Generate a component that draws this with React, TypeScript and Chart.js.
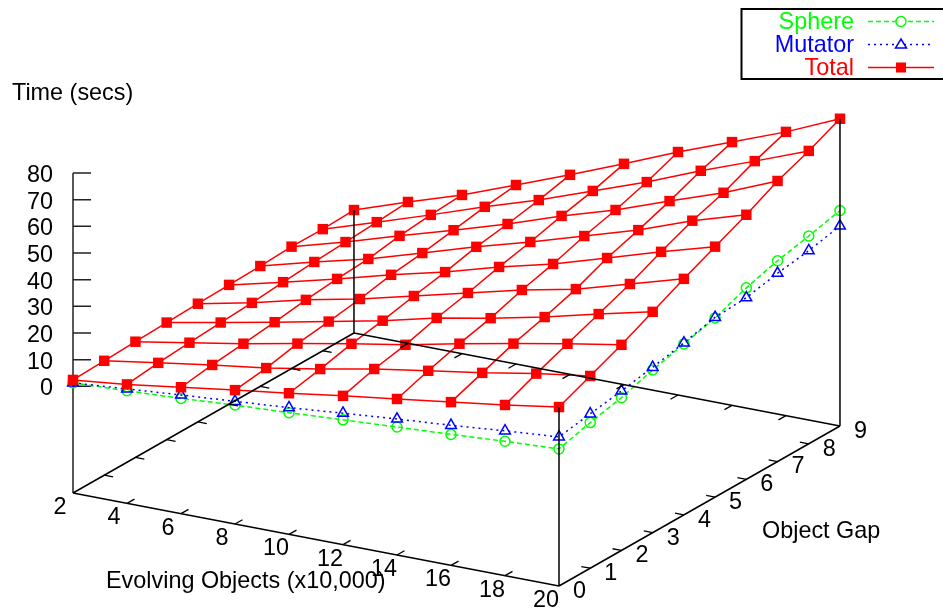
import React, { useEffect, useRef } from "react";
import { Chart, registerables } from "chart.js";

Chart.register(...registerables);

const objects = [2, 4, 6, 8, 10, 12, 14, 16, 18, 20];
const gaps = [0, 1, 2, 3, 4, 5, 6, 7, 8, 9];
const zTicks = [0, 10, 20, 30, 40, 50, 60, 70, 80];

// Total time: one row for each object gap, one value for each object count
const totalGap0 = [2.4, 4.6, 7.4, 10.2, 12.9, 15.8, 18.5, 21.2, 24, 27.1];
const totalGap1 = [2.9, 6, 9.1, 11.8, 15.3, 19.2, 22.4, 25.5, 29.1, 32.1];
const totalGap2 = [3.4, 6.9, 10.4, 14.3, 18.1, 21.6, 25.9, 29.8, 33.6, 37.1];
const totalGap3 = [3.9, 7.8, 11.8, 15.9, 20.1, 25, 28.8, 33.1, 38.1, 42.8];
const totalGap4 = [4.3, 8.5, 13.5, 17.7, 22.7, 27.7, 32.7, 36.9, 42.7, 48.5];
const totalGap5 = [4.7, 9.6, 14.7, 20.1, 25, 30.8, 35.8, 41.9, 48.1, 53.9];
const totalGap6 = [5.1, 10.5, 15.5, 21.6, 27.8, 33.5, 39.6, 45.7, 53.1, 59.2];
const totalGap7 = [5.7, 11.3, 17.5, 23.5, 29.7, 36.6, 42.7, 49.9, 56.9, 65.2];
const totalGap8 = [5.6, 12.1, 18.7, 25.6, 32, 39.3, 46.5, 54.6, 62.1, 69.8];
const totalGap9 = [6.1, 13, 19.5, 27.1, 34.8, 42.8, 51.1, 58.7, 66.4, 75.2];
const totalRows = [totalGap0, totalGap1, totalGap2, totalGap3, totalGap4, totalGap5, totalGap6, totalGap7, totalGap8, totalGap9];

// Only the front edges of these two surfaces are visible
const sphereGap0 = [1.3, 2.2, 3.2, 4.6, 5.6, 6.8, 8, 9.1, 10.4, 11.4];
const sphereObjects20 = [11.4, 14.6, 17.3, 21, 24.1, 27.2, 31.8, 35.3, 37.9, 40.8];
const mutatorGap0 = [1.3, 2.9, 4.5, 6, 7.5, 9.3, 11, 12.5, 14.3, 15.9];
const mutatorObjects20 = [15.9, 17.9, 19.8, 22, 24.5, 27.4, 28.1, 30.6, 32.4, 35];

const GREEN = "#00ff00";
const BLUE = "#0000ff";
const RED = "#ff0000";
const FONT = '"Liberation Sans", Arial, sans-serif';
const FONT_SIZE = 23.4;

// gnuplot style view: object count, gap and time mapped to the flat page
const X0 = 73, Y0 = 493;
const PX_X = 27, PY_X = 5.167;
const PX_G = 31.22, PY_G = -17.78;
const PY_Z = -2.667;
const Z_BASE = -40;
const project = (x: number, g: number, z: number) => ({
  x: X0 + (x - 2) * PX_X + g * PX_G,
  y: Y0 + (x - 2) * PY_X + g * PY_G + (z - Z_BASE) * PY_Z,
});
const GAP = { x: NaN, y: NaN };

const xMin = objects[0], xMax = objects[objects.length - 1];
const gMin = gaps[0], gMax = gaps[gaps.length - 1];
const zMax = zTicks[zTicks.length - 1];

const totalRowPoints = totalRows.flatMap((row, j) => [
  ...row.map((z, i) => project(objects[i], gaps[j], z)),
  GAP,
]);
const totalColumnPoints = objects.flatMap((x, i) => [
  ...gaps.map((g, j) => project(x, g, totalRows[j][i])),
  GAP,
]);
const edgePoints = (front: number[], side: number[]) => [
  ...objects.map((x, i) => project(x, gMin, front[i])),
  ...gaps.slice(1).map((g, j) => project(xMax, g, side[j + 1])),
];

const segs = (pairs: Array<[number, number, number, number, number, number]>) =>
  pairs.flatMap(([a, b, c, d, e, f]) => [project(a, b, c), project(d, e, f), GAP]);

const baseFrame = segs([
  [xMin, gMin, Z_BASE, xMax, gMin, Z_BASE],
  [xMax, gMin, Z_BASE, xMax, gMax, Z_BASE],
  [xMax, gMax, Z_BASE, xMin, gMax, Z_BASE],
  [xMin, gMax, Z_BASE, xMin, gMin, Z_BASE],
  [xMax, gMin, Z_BASE, xMax, gMin, totalRows[0][9]],
  [xMax, gMax, Z_BASE, xMax, gMax, totalRows[9][9]],
  [xMin, gMax, Z_BASE, xMin, gMax, totalRows[9][0]],
]);
const innerObjects = objects.slice(1, -1);
const innerGaps = gaps.slice(1, -1);
const tickG = 0.24, tickX = 0.33;
const baseTicks = segs([
  ...innerObjects.map((x) => [x, gMin, Z_BASE, x, gMin + tickG, Z_BASE] as any),
  ...innerObjects.map((x) => [x, gMax, Z_BASE, x, gMax - tickG, Z_BASE] as any),
  ...innerGaps.map((g) => [xMin, g, Z_BASE, xMin + tickX, g, Z_BASE] as any),
  ...innerGaps.map((g) => [xMax, g, Z_BASE, xMax - tickX, g, Z_BASE] as any),
]);
const zAxisPoints = segs([
  [xMin, gMin, Z_BASE, xMin, gMin, zMax],
  ...zTicks.map((z) => [xMin, gMin, z, xMin + 0.5, gMin + 0.145, z] as any),
]);

const textPlugin = {
  id: "gnuplotText",
  afterDraw(chart: any) {
    const c = chart.ctx;
    const sx = chart.scales.x, sy = chart.scales.y;
    const put = (t: string, x: number, y: number, align: CanvasTextAlign, color = "#000") => {
      c.textAlign = align;
      c.fillStyle = color;
      c.fillText(t, sx.getPixelForValue(x), sy.getPixelForValue(y));
    };
    c.save();
    c.font = `${FONT_SIZE}px ${FONT}`;
    c.textBaseline = "middle";
    zTicks.forEach((z) => {
      const p = project(xMin, gMin, z);
      put(String(z), p.x - 20, p.y + 2.5, "right");
    });
    objects.forEach((x) => {
      const p = project(x, gMin, Z_BASE);
      put(String(x), p.x - 13, p.y + 14.5, "center");
    });
    gaps.forEach((g) => {
      const p = project(xMax, g, Z_BASE);
      put(String(g), p.x + 20.5, p.y + 5.5, "center");
    });
    put("Time (secs)", 12, 94, "left");
    put("Evolving Objects (x10,000)", 106, 582, "left");
    put("Object Gap", 762, 531.5, "left");

    // key box
    c.strokeStyle = "#000";
    c.lineWidth = 2;
    c.setLineDash([]);
    c.strokeRect(741.5, 9, 220, 70);
    const rows = [
      { t: "Sphere", col: GREEN, y: 22, dash: [5, 3] },
      { t: "Mutator", col: BLUE, y: 45, dash: [2, 4] },
      { t: "Total", col: RED, y: 68, dash: [] as number[] },
    ];
    rows.forEach((r) => {
      put(r.t, 854, r.y + 1, "right", r.col);
      c.strokeStyle = r.col;
      c.lineWidth = 1.5;
      c.setLineDash(r.dash);
      c.beginPath();
      c.moveTo(868, r.y - 0.5);
      c.lineTo(934, r.y - 0.5);
      c.stroke();
      c.setLineDash([]);
      const my = r.y - 0.5;
      if (r.t === "Sphere") {
        c.fillStyle = "#fff";
        c.beginPath();
        c.arc(901, my, 5, 0, Math.PI * 2);
        c.fill();
        c.stroke();
      } else if (r.t === "Mutator") {
        c.fillStyle = "#fff";
        c.beginPath();
        c.moveTo(901, my - 5.5);
        c.lineTo(906.5, my + 3.5);
        c.lineTo(895.5, my + 3.5);
        c.closePath();
        c.fill();
        c.stroke();
      } else {
        c.fillStyle = r.col;
        c.fillRect(896, my - 5, 10, 10);
      }
    });
    c.restore();
  },
};

export default function App() {
  const ref = useRef<HTMLCanvasElement>(null);
  useEffect(() => {
    const common = { showLine: true, clip: false as any };
    const chart = new Chart(ref.current as HTMLCanvasElement, {
      type: "scatter",
      data: {
        datasets: [
          { ...common, label: "Base frame", data: baseFrame, borderColor: "#000", borderWidth: 1.5, pointRadius: 0, order: 0 },
          { ...common, label: "Base ticks", data: baseTicks, borderColor: "#000", borderWidth: 1.3, pointRadius: 0, order: 0 },
          { ...common, label: "Total", data: totalRowPoints, borderColor: RED, borderWidth: 1.5, pointStyle: "rect", pointRadius: 7.4, pointBackgroundColor: RED, pointBorderColor: RED, pointBorderWidth: 0, order: 1 },
          { ...common, label: "Total (cross lines)", data: totalColumnPoints, borderColor: RED, borderWidth: 1.5, pointRadius: 0, order: 2 },
          { ...common, label: "Mutator", data: edgePoints(mutatorGap0, mutatorObjects20), borderColor: BLUE, borderWidth: 1.5, borderDash: [2, 4], pointStyle: "triangle", pointRadius: 6.2, pointBackgroundColor: "rgba(0,0,0,0)", pointBorderColor: BLUE, pointBorderWidth: 1.5, order: 3 },
          { ...common, label: "Sphere", data: edgePoints(sphereGap0, sphereObjects20), borderColor: GREEN, borderWidth: 1.5, borderDash: [5, 3], pointStyle: "circle", pointRadius: 5, pointBackgroundColor: "rgba(0,0,0,0)", pointBorderColor: GREEN, pointBorderWidth: 1.5, order: 4 },
          { ...common, label: "Time axis", data: zAxisPoints, borderColor: "#222", borderWidth: 1.5, pointRadius: 0, order: 9 },
        ] as any,
      },
      options: {
        animation: false,
        responsive: false,
        layout: { padding: 0, autoPadding: false },
        plugins: { legend: { display: false }, tooltip: { enabled: false } },
        scales: {
          x: { type: "linear", display: false, min: 0, max: 943 },
          y: { type: "linear", display: false, min: 0, max: 608, reverse: true },
        },
      },
      plugins: [textPlugin as any],
    });
    return () => chart.destroy();
  }, []);
  return (
    <div style={{ position: "absolute", left: 0, top: 0, width: 943, height: 608, background: "#fff" }}>
      <canvas ref={ref} width={943} height={608} style={{ display: "block" }} />
    </div>
  );
}
